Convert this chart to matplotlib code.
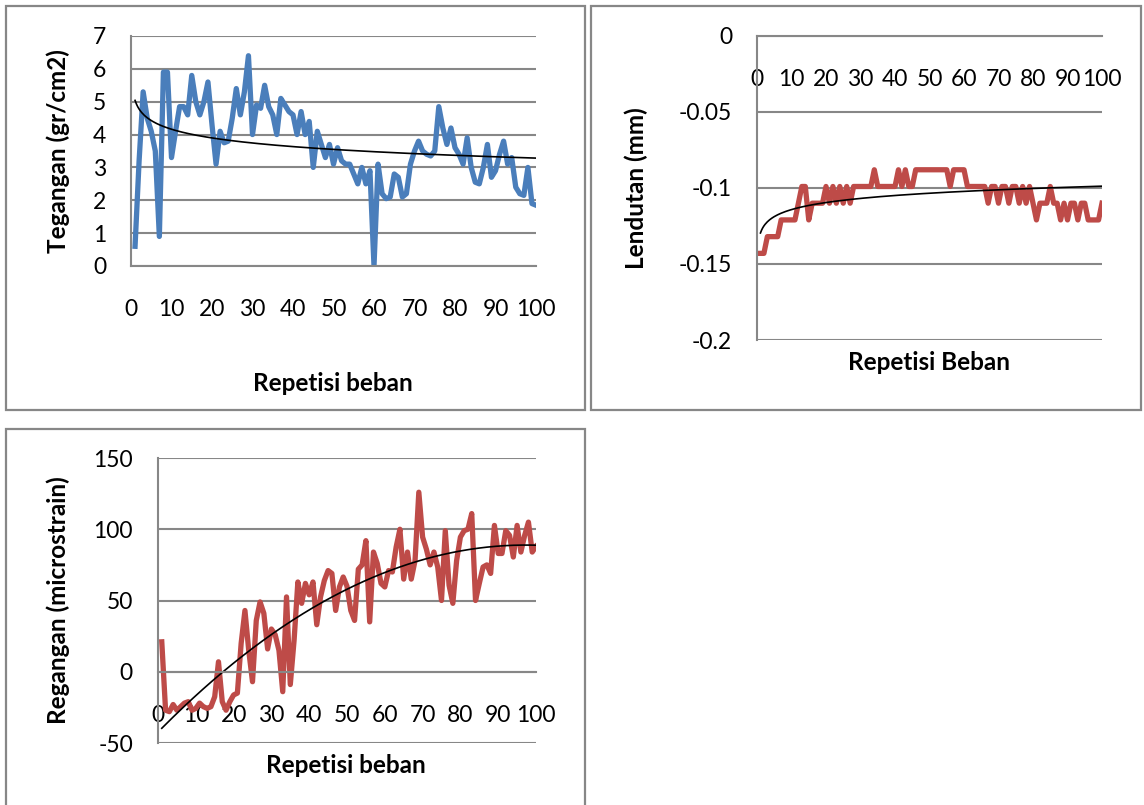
import matplotlib
matplotlib.use('Agg')
import matplotlib.pyplot as plt
from matplotlib.patches import Rectangle
from matplotlib.ticker import FuncFormatter
import numpy as np

plt.rcParams['font.family'] = ['Lato', 'DejaVu Sans']
plt.rcParams['axes.unicode_minus'] = False

# Data
repetisi = np.arange(1, 101)

tegangan = [0.6, 3.2, 5.3, 4.5, 4.1, 3.5, 0.9, 5.9, 5.9, 3.3,
            4.1, 4.85, 4.85, 4.6, 5.8, 5.0, 4.6, 5.0, 5.6, 4.3,
            3.1, 4.1, 3.75, 3.8, 4.5, 5.4, 4.6, 5.3, 6.4, 4.0,
            4.9, 4.8, 5.5, 4.85, 4.6, 4.0, 5.1, 4.9, 4.7, 4.6,
            4.0, 4.7, 4.0, 4.4, 3.0, 4.1, 3.7, 3.3, 3.7, 3.1,
            3.6, 3.2, 3.1, 3.1, 2.8, 2.5, 3.0, 2.5, 2.9, 0.0,
            3.1, 2.2, 2.05, 2.1, 2.8, 2.7, 2.1, 2.2, 3.1, 3.5,
            3.8, 3.5, 3.4, 3.35, 3.5, 4.85, 4.2, 3.7, 4.2, 3.6,
            3.4, 3.1, 3.9, 3.0, 2.55, 2.5, 3.0, 3.7, 2.7, 2.9,
            3.4, 3.8, 3.1, 3.3, 2.4, 2.2, 2.15, 3.0, 1.9, 1.85]

lendutan = [-0.143, -0.143, -0.132, -0.132, -0.132, -0.132, -0.121, -0.121, -0.121, -0.121,
            -0.121, -0.110, -0.099, -0.099, -0.121, -0.110, -0.110, -0.110, -0.110, -0.099,
            -0.110, -0.099, -0.110, -0.099, -0.110, -0.099, -0.110, -0.099, -0.099, -0.099,
            -0.099, -0.099, -0.099, -0.088, -0.099, -0.099, -0.099, -0.099, -0.099, -0.099,
            -0.088, -0.099, -0.088, -0.099, -0.099, -0.088, -0.088, -0.088, -0.088, -0.088,
            -0.088, -0.088, -0.088, -0.088, -0.088, -0.099, -0.088, -0.088, -0.088, -0.088,
            -0.099, -0.099, -0.099, -0.099, -0.099, -0.099, -0.110, -0.099, -0.099, -0.110,
            -0.099, -0.099, -0.110, -0.099, -0.099, -0.110, -0.099, -0.110, -0.099, -0.110,
            -0.121, -0.110, -0.110, -0.110, -0.099, -0.110, -0.110, -0.121, -0.110, -0.121,
            -0.110, -0.110, -0.121, -0.110, -0.110, -0.121, -0.121, -0.121, -0.121, -0.110]

regangan = [21, -27, -28, -23, -27, -24.5, -22, -21, -27, -25.7,
            -22, -24.5, -25.7, -24.5, -17.5, 7, -21, -27, -21, -16.3,
            -15, 20, 43, 15, -7, 36, 49, 41, 16, 30,
            26, 15, -14, 52.5, -9, 22, 63, 48, 62, 54,
            63, 33, 52.5, 64, 71, 69, 43, 59.5, 66.5, 60,
            43, 36, 72, 75, 92, 35, 84, 76, 62, 59.5,
            71, 70, 87.5, 100, 65, 84, 65, 78, 126, 94.5,
            86, 75, 84, 73.5, 50, 99, 60.7, 48, 78, 94.5,
            99, 100, 111, 50, 62, 73.5, 75, 69, 102.7, 83,
            83, 99, 95.7, 80.5, 102.7, 84, 95.7, 105, 84, 88]

W, H = 1144, 805
GRAY = '#878787'
BLUE = '#4A7EBB'
RED = '#BE4B48'
TICK_FS = 16.5
LABEL_FS = 17.5


def rect(l, t, r, b):
    return [l / W, 1 - b / H, (r - l) / W, (b - t) / H]


def frac(x, y):
    return x / W, 1 - y / H


def style(ax, yticks):
    ax.set_xlim(0, 100)
    ax.set_xticks(range(0, 101, 10))
    ax.set_yticks(yticks)
    ax.set_ylim(yticks[0], yticks[-1])
    for s in ['top', 'right']:
        ax.spines[s].set_visible(False)
    for s in ['left', 'bottom']:
        ax.spines[s].set_color(GRAY)
        ax.spines[s].set_linewidth(1.5)
    ax.grid(axis='y', color=GRAY, linewidth=1.5)
    ax.set_axisbelow(True)
    ax.tick_params(axis='both', length=0, labelsize=TICK_FS)
    ax.tick_params(axis='y', pad=18)
    ax.tick_params(axis='x', pad=24)


fig = plt.figure(figsize=(W / 100, H / 100), dpi=100)

# Panel borders (Excel chart frames)
for (l, t, r, b) in [(6, 6, 585, 410), (591, 6, 1141, 410), (6, 429, 585, 830)]:
    fig.add_artist(Rectangle(frac(l, b), (r - l) / W, (b - t) / H,
                             transform=fig.transFigure, fill=False,
                             edgecolor=GRAY, linewidth=1.6, clip_on=False))

xs = np.array(repetisi, dtype=float)
xfine = np.linspace(1, 100, 300)

# Panel 1: Tegangan
ax1 = fig.add_axes(rect(131, 36, 536, 266))
style(ax1, list(range(0, 8)))
ax1.plot(repetisi, tegangan, color=BLUE, linewidth=3.8, solid_joinstyle='round')
a, b = np.polyfit(np.log(xs), tegangan, 1)
ax1.plot(xfine, a * np.log(xfine) + b, color='black', linewidth=1.2)
fig.text(*frac(333, 383), 'Repetisi beban', ha='center', va='center',
         fontsize=LABEL_FS, fontweight='bold')
fig.text(*frac(58, 151), 'Tegangan (gr/cm2)', ha='center', va='center',
         rotation=90, fontsize=LABEL_FS, fontweight='bold')

# Panel 2: Lendutan
ax2 = fig.add_axes(rect(757, 36, 1102, 340))
style(ax2, [-0.2, -0.15, -0.1, -0.05, 0])
ax2.spines['bottom'].set_position(('data', 0))
ax2.yaxis.set_major_formatter(FuncFormatter(lambda v, p: '%g' % round(v, 2)))
ax2.plot(repetisi, lendutan, color=RED, linewidth=3.8, solid_joinstyle='round')
a, b = np.polyfit(np.log(xs), lendutan, 1)
ax2.plot(xfine, a * np.log(xfine) + b, color='black', linewidth=1.2)
fig.text(*frac(929, 362), 'Repetisi Beban', ha='center', va='center',
         fontsize=LABEL_FS, fontweight='bold')
fig.text(*frac(636, 188), 'Lendutan (mm)', ha='center', va='center',
         rotation=90, fontsize=LABEL_FS, fontweight='bold')

# Panel 3: Regangan
ax3 = fig.add_axes(rect(158, 458, 536, 743))
style(ax3, [-50, 0, 50, 100, 150])
ax3.spines['bottom'].set_position(('data', 0))
ax3.plot(repetisi, regangan, color=RED, linewidth=3.8, solid_joinstyle='round')
c = np.polyfit(xs, regangan, 2)
ax3.plot(xfine, np.polyval(c, xfine), color='black', linewidth=1.2)
fig.text(*frac(346, 765), 'Repetisi beban', ha='center', va='center',
         fontsize=LABEL_FS, fontweight='bold')
fig.text(*frac(58, 600), 'Regangan (microstrain)', ha='center', va='center',
         rotation=90, fontsize=LABEL_FS, fontweight='bold')

fig.savefig('out.png', dpi=100)
